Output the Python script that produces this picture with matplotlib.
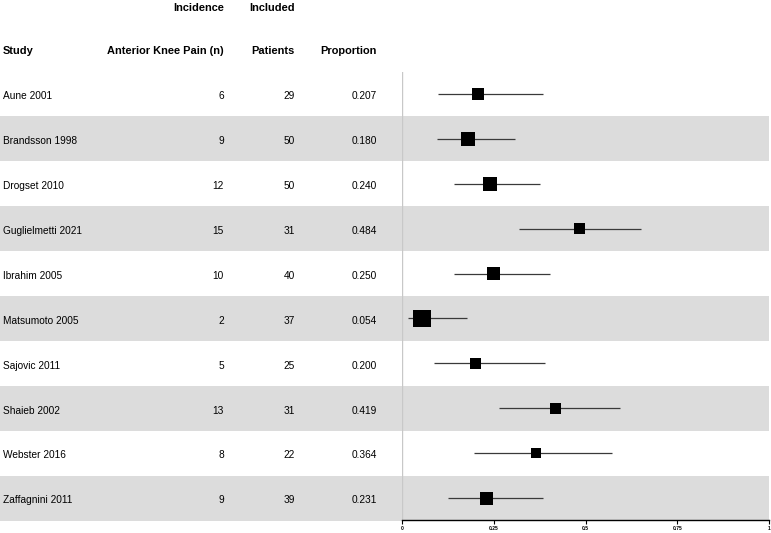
import numpy as np
import matplotlib.pyplot as plt

plt.rcParams['font.family'] = ['Liberation Sans', 'DejaVu Sans']

# study data
studies = ["Aune 2001", "Brandsson 1998", "Drogset 2010", "Guglielmetti 2021",
           "Ibrahim 2005", "Matsumoto 2005", "Sajovic 2011", "Shaieb 2002",
           "Webster 2016", "Zaffagnini 2011"]
events = [6, 9, 12, 15, 10, 2, 5, 13, 8, 9]
totals = [29, 50, 50, 31, 40, 37, 25, 31, 22, 39]
proportion = [0.207, 0.180, 0.240, 0.484, 0.250, 0.054, 0.200, 0.419, 0.364, 0.231]
ci_low = [0.097, 0.095, 0.141, 0.319, 0.141, 0.015, 0.088, 0.263, 0.196, 0.125]
ci_high = [0.384, 0.308, 0.375, 0.652, 0.402, 0.178, 0.391, 0.593, 0.571, 0.383]
weights = [8.4, 12.5, 12.0, 7.4, 9.9, 18.4, 7.9, 7.4, 6.1, 9.9]  # % weight
xticks = [0, 0.25, 0.5, 0.75, 1]
xticklabels = ["0", "0.25", "0.5", "0.75", "1"]

W, H, DPI = 771, 533, 100
fig = plt.figure(figsize=(W / DPI, H / DPI), dpi=DPI)

row0, row_h = 94, 44.9   # pixel centre of first study row, row spacing
n = len(studies)
rows = np.arange(n)

# full-figure axes for the table part (x in pixels, y in row units)
tab = fig.add_axes([0, 0, 1, 1])
tab.set_xlim(0, W)
tab.set_ylim((H - row0) / row_h, -row0 / row_h)
tab.axis('off')

# zebra bands on every other study row
for i in rows:
    if i % 2 == 1:
        tab.fill_between([0, 769], i - 0.5, i + 0.5, color='#dcdcdc', lw=0, zorder=0)

fs = 7.3
hdr = dict(fontsize=7.9, fontweight='bold', va='center')
tab.text(224, -2 + 0.09, "Incidence", ha='right', **hdr)
tab.text(295, -2 + 0.09, "Included", ha='right', **hdr)
tab.text(3, -1 + 0.05, "Study", ha='left', **hdr)
tab.text(224, -1 + 0.05, "Anterior Knee Pain (n)", ha='right', **hdr)
tab.text(295, -1 + 0.05, "Patients", ha='right', **hdr)
tab.text(377, -1 + 0.05, "Proportion", ha='right', **hdr)

dy = 0.05
for i in rows:
    tab.text(3, i + dy, studies[i], ha='left', va='center', fontsize=fs)
    tab.text(224, i + dy, str(events[i]), ha='right', va='center', fontsize=fs)
    tab.text(295, i + dy, str(totals[i]), ha='right', va='center', fontsize=fs)
    tab.text(377, i + dy, f"{proportion[i]:.3f}", ha='right', va='center', fontsize=fs)

# forest axes
x0, x1 = 402, 769
ytop, ybot = 72, 520
ax = fig.add_axes([x0 / W, (H - ybot) / H, (x1 - x0) / W, (ybot - ytop) / H])
ax.patch.set_alpha(0)
ax.set_xlim(0, 1)
ax.set_ylim((ybot - row0) / row_h, (ytop - row0) / row_h)
for s in ['top', 'right', 'left']:
    ax.spines[s].set_visible(False)
ax.spines['bottom'].set_linewidth(1.0)
ax.set_yticks([])
ax.set_xticks(xticks)
ax.set_xticklabels(xticklabels, fontsize=3.6, fontweight='bold')
ax.tick_params(axis='x', length=3, width=0.8, pad=1.5)
ax.axvline(0, color='#c8c8c8', lw=1.0, zorder=1)

ax.hlines(rows, ci_low, ci_high, color='#3a3a3a', lw=0.9, zorder=2)
side_px = 4.1 * np.sqrt(np.array(weights))
side_pt = side_px * 72 / DPI
ax.scatter(proportion, rows, marker='s', s=side_pt ** 2, color='black', lw=0, zorder=3)

fig.savefig("out.png", dpi=DPI)
